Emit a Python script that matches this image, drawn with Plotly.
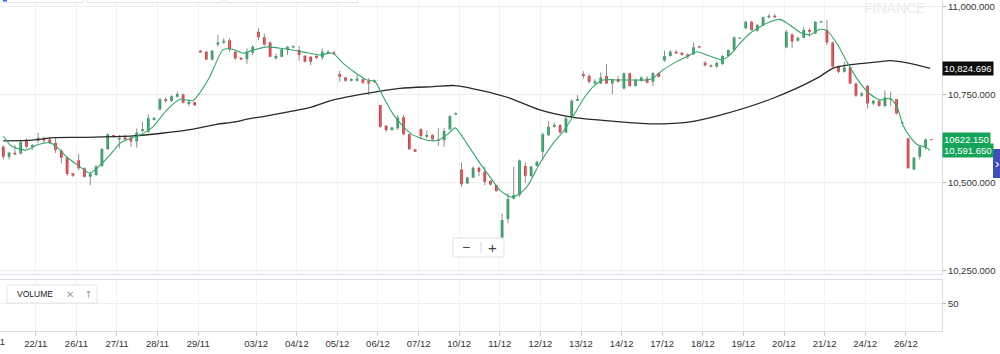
import plotly.graph_objects as go

# ---------------- data ----------------
day_labels = ["21/11", "22/11", "26/11", "27/11", "28/11", "29/11", "03/12", "04/12",
              "05/12", "06/12", "07/12", "10/12", "11/12", "12/12", "13/12", "14/12",
              "17/12", "18/12", "19/12", "20/12", "21/12", "24/12", "26/12"]
day_first_candle = [-1, 6, 13, 20, 27, 34, 44, 51, 58, 65, 72, 79, 86, 93, 100, 107,
                    114, 121, 128, 135, 142, 149, 156]

open_ = [10602, 10574, 10585, 10583, 10621, 10602, 10619, 10626, 10623, 10614,
         10591, 10571, 10527, 10564, 10541, 10517, 10522, 10548, 10596, 10636,
         10623, 10629, 10628, 10617, 10647, 10645, 10678, 10708, 10737, 10732,
         10744, 10751, 10724, 10729, 10875, 10872, 10849, 10893, 10898, 10905,
         10872, 10855, 10851, 10869, 10929, 10913, 10898, 10853, 10858, 10877,
         10884, 10877, 10861, 10858, 10860, 10856, 10867, 10870, 10809, 10799,
         10790, 10790, 10794, 10788, 10787, 10721, 10662, 10650, 10655, 10686,
         10638, 10595, 10652, 10631, 10636, 10623, 10621, 10652, 10694, 10538,
         10498, 10515, 10543, 10531, 10505, 10493, 10342, 10397, 10455, 10465,
         10548, 10519, 10548, 10588, 10635, 10659, 10664, 10643, 10686, 10733,
         10809, 10803, 10782, 10782, 10803, 10782, 10795, 10768, 10811, 10775,
         10790, 10796, 10787, 10811, 10847, 10860, 10872, 10869, 10865, 10865,
         10888, 10841, 10834, 10830, 10837, 10860, 10877, 10909, 10939, 10957,
         10932, 10948, 10970, 10974, 10964, 10884, 10921, 10903, 10912, 10934,
         10924, 10955, 10934, 10898, 10830, 10815, 10827, 10782, 10747, 10775,
         10725, 10733, 10718, 10735, 10738, 10669, 10626, 10538, 10574, 10601,
         10624]
high = [10607, 10588, 10607, 10621, 10626, 10610, 10642, 10631, 10631, 10626,
        10595, 10574, 10528, 10581, 10544, 10531, 10550, 10598, 10640, 10636,
        10636, 10636, 10631, 10654, 10673, 10695, 10686, 10740, 10742, 10749,
        10758, 10754, 10737, 10730, 10877, 10875, 10877, 10920, 10910, 10910,
        10875, 10856, 10882, 10891, 10939, 10924, 10901, 10867, 10882, 10888,
        10891, 10888, 10863, 10860, 10863, 10882, 10877, 10875, 10818, 10801,
        10797, 10806, 10797, 10797, 10793, 10721, 10664, 10659, 10692, 10692,
        10640, 10595, 10656, 10648, 10638, 10655, 10655, 10692, 10700, 10558,
        10517, 10546, 10546, 10546, 10508, 10495, 10413, 10470, 10545, 10566,
        10558, 10548, 10563, 10643, 10675, 10671, 10666, 10688, 10737, 10749,
        10817, 10809, 10794, 10813, 10837, 10795, 10803, 10813, 10813, 10796,
        10803, 10803, 10815, 10813, 10875, 10877, 10877, 10872, 10867, 10898,
        10889, 10846, 10836, 10844, 10863, 10879, 10915, 10913, 10960, 10960,
        10951, 10972, 10979, 10979, 10965, 10934, 10924, 10915, 10943, 10939,
        10959, 10959, 10962, 10901, 10834, 10844, 10830, 10784, 10757, 10778,
        10735, 10737, 10763, 10759, 10738, 10673, 10628, 10574, 10605, 10626,
        10624]
low = [10566, 10566, 10578, 10580, 10597, 10593, 10612, 10612, 10610, 10585,
       10555, 10519, 10517, 10536, 10514, 10493, 10519, 10545, 10593, 10629,
       10598, 10621, 10602, 10600, 10645, 10642, 10677, 10706, 10727, 10730,
       10742, 10725, 10718, 10718, 10869, 10848, 10847, 10886, 10894, 10872,
       10850, 10848, 10837, 10862, 10905, 10889, 10856, 10850, 10856, 10863,
       10882, 10847, 10842, 10834, 10852, 10849, 10866, 10863, 10787, 10787,
       10787, 10788, 10780, 10749, 10784, 10656, 10645, 10648, 10650, 10635,
       10593, 10587, 10623, 10626, 10619, 10604, 10602, 10650, 10692, 10489,
       10496, 10513, 10519, 10493, 10492, 10474, 10342, 10386, 10453, 10460,
       10500, 10517, 10546, 10564, 10633, 10657, 10640, 10640, 10683, 10732,
       10796, 10782, 10780, 10780, 10780, 10752, 10784, 10765, 10773, 10773,
       10787, 10782, 10775, 10799, 10844, 10858, 10866, 10861, 10851, 10863,
       10882, 10830, 10827, 10827, 10834, 10858, 10875, 10908, 10936, 10932,
       10929, 10945, 10967, 10967, 10961, 10882, 10882, 10901, 10910, 10915,
       10922, 10955, 10891, 10827, 10811, 10813, 10780, 10744, 10744, 10711,
       10721, 10716, 10714, 10718, 10694, 10667, 10541, 10536, 10566, 10595,
       10620]
close = [10574, 10585, 10580, 10616, 10602, 10607, 10628, 10619, 10614, 10593,
         10571, 10525, 10520, 10541, 10517, 10525, 10546, 10596, 10638, 10631,
         10628, 10623, 10617, 10643, 10652, 10683, 10685, 10737, 10732, 10746,
         10752, 10727, 10730, 10720, 10870, 10850, 10875, 10898, 10903, 10879,
         10853, 10850, 10872, 10886, 10913, 10893, 10858, 10860, 10879, 10886,
         10888, 10863, 10844, 10844, 10854, 10872, 10872, 10866, 10801, 10790,
         10795, 10796, 10784, 10782, 10791, 10659, 10650, 10657, 10685, 10638,
         10595, 10588, 10633, 10636, 10623, 10619, 10647, 10689, 10698, 10496,
         10515, 10543, 10531, 10503, 10495, 10477, 10394, 10454, 10465, 10563,
         10520, 10546, 10560, 10638, 10659, 10664, 10643, 10683, 10733, 10738,
         10803, 10787, 10788, 10799, 10782, 10795, 10787, 10811, 10775, 10792,
         10799, 10784, 10811, 10801, 10860, 10872, 10867, 10863, 10858, 10885,
         10884, 10834, 10830, 10841, 10860, 10877, 10913, 10912, 10957, 10934,
         10948, 10970, 10974, 10970, 10962, 10929, 10901, 10912, 10934, 10929,
         10957, 10959, 10898, 10830, 10815, 10827, 10782, 10747, 10754, 10725,
         10733, 10718, 10742, 10738, 10697, 10672, 10541, 10571, 10602, 10623,
         10622.15]
candle_idx = list(range(len(open_)))

# moving averages (candle position, value)
fast_ma_x = [0, 1.2, 2.3, 4.0, 5.8, 8.0, 9.2, 10.9, 13.2, 14.9, 16.7, 18.4, 20.1,
             21.8, 23.6, 25.8, 28.2, 30.5, 32.7, 33.9, 35.6, 37.9, 39.6, 41.3,
             43.1, 45.5, 47.7, 49.9, 52.4, 54.6, 56.8, 58.6, 61.0, 62.7, 64.1,
             65.5, 67.2, 68.9, 70.6, 73.1, 74.8, 76.5, 77.9, 79.9, 82.2, 83.9,
             85.6, 87.4, 88.7, 90.3, 92.5, 94.8, 96.5, 98.2, 99.9, 101.7, 103.4,
             105.8, 108.6, 111.0, 112.0, 113.7, 116.1, 118.4, 119.6, 121.3, 123.0,
             123.9, 125.3, 127.0, 128.7, 130.5, 132.2, 133.9, 135.6, 137.4, 139.1,
             140.8, 142.0, 143.7, 145.5, 147.2, 149.4, 151.2, 152.9, 154.1, 155.1,
             156.3, 157.7, 158.9, 159.8]
fast_ma = [10633, 10607, 10598, 10593, 10607, 10614, 10602, 10574, 10546, 10527,
           10550, 10579, 10612, 10626, 10636, 10659, 10707, 10737, 10733, 10756,
           10801, 10878, 10879, 10868, 10877, 10886, 10882, 10877, 10869, 10863,
           10868, 10839, 10809, 10792, 10787, 10744, 10695, 10661, 10636, 10621,
           10620, 10636, 10656, 10612, 10555, 10517, 10479, 10460, 10465, 10489,
           10555, 10612, 10645, 10688, 10735, 10773, 10792, 10792, 10792, 10792,
           10797, 10820, 10844, 10863, 10872, 10863, 10853, 10849, 10863, 10896,
           10924, 10943, 10957, 10964, 10948, 10927, 10920, 10936, 10932, 10896,
           10842, 10795, 10752, 10735, 10740, 10716, 10664, 10631, 10607, 10602,
           10592]
slow_ma_x = [0, 5.1, 8.6, 13.8, 22.4, 27.0, 33.0, 36.8, 39.6, 42.5, 45.5, 52.9,
             56.8, 62.7, 68.4, 74.1, 77.9, 82.7, 87.4, 92.5, 98.2, 102.9, 108.0,
             112.0, 118.4, 123.6, 132.7, 140.3, 143.0, 145.5, 151.2, 152.9, 156.3,
             159.8]
slow_ma = [10619, 10621, 10628, 10629, 10633, 10640, 10653, 10666, 10672, 10682,
           10690, 10714, 10735, 10754, 10768, 10773, 10776, 10761, 10740, 10707,
           10686, 10678, 10671, 10667, 10673, 10692, 10740, 10797, 10825, 10834,
           10844, 10847, 10839, 10825]

last_price = 10622.15
fast_ma_last = 10591.65
slow_ma_last = 10824.696

price_ticks = [10250, 10500, 10750, 11000]
volume_ticks = [50]

# ---------------- styling / layout constants ----------------
W, H = 1000, 354
PLOT_H = 331                 # plot area height (bottom margin 23)
X_END = 0.942                # right edge of the panes
X_RANGE = [-0.569, 161.84]
Y_RANGE = [10241, 11019]
VOL_RANGE = [0, 94]
MAIN_DOM = [(PLOT_H - 274) / PLOT_H, 1]
VOL_DOM = [0, (PLOT_H - 280) / PLOT_H]
UP, DOWN, WICK = "#18a35b", "#f0282d", "#8c8c8c"
FONT = "Liberation Sans, Arial, Helvetica, sans-serif"
TXT = "#333333"


def px(xp):
    return xp / W


def py(yp):
    return (PLOT_H - yp) / PLOT_H


tickvals = [f - 0.4 for f in day_first_candle]

# wick segments
wx, wy = [], []
for i, h, l in zip(candle_idx, high, low):
    wx += [i, i, None]
    wy += [l, h, None]

fig = go.Figure()
fig.add_trace(go.Scatter(x=wx, y=wy, mode="lines", line=dict(color=WICK, width=1),
                         hoverinfo="skip", showlegend=False))
fig.add_trace(go.Candlestick(
    x=candle_idx, open=open_, high=high, low=low, close=close,
    increasing=dict(fillcolor=UP, line=dict(color=UP, width=0)),
    decreasing=dict(fillcolor=DOWN, line=dict(color=DOWN, width=0)),
    whiskerwidth=0, hoverinfo="skip", showlegend=False))
fig.add_trace(go.Scatter(x=slow_ma_x, y=slow_ma, mode="lines",
                         line=dict(color="#2a2a2a", width=1.3, shape="spline", smoothing=0.8),
                         hoverinfo="skip", showlegend=False))
fig.add_trace(go.Scatter(x=fast_ma_x, y=fast_ma, mode="lines",
                         line=dict(color="#37a56b", width=1.1, shape="spline", smoothing=0.6),
                         hoverinfo="skip", showlegend=False))
fig.add_trace(go.Scatter(x=[], y=[], xaxis="x2", yaxis="y2", showlegend=False))

axis_font = dict(family=FONT, size=9.5, color=TXT)

fig.update_layout(
    width=W, height=H, margin=dict(l=0, r=0, t=0, b=H - PLOT_H),
    paper_bgcolor="white", plot_bgcolor="white", showlegend=False,
    boxgap=0.32,
    xaxis=dict(domain=[0, X_END], range=X_RANGE, anchor="y", tickvals=tickvals,
               showticklabels=False, showgrid=True, gridcolor="#f1f2f4", zeroline=False,
               showline=True, linecolor="#dde1e7", linewidth=1,
               rangeslider=dict(visible=False), fixedrange=True),
    yaxis=dict(domain=MAIN_DOM, range=Y_RANGE, anchor="x", side="right",
               tickvals=price_ticks, tickformat=",.3f", tickfont=axis_font,
               showgrid=True, gridcolor="#eeeeee", zeroline=False,
               ticks="outside", ticklen=3, tickcolor="#b5b5b5",
               showline=True, linecolor="#d6dae0", linewidth=1),
    xaxis2=dict(domain=[0, X_END], range=X_RANGE, anchor="y2", tickvals=tickvals,
                ticktext=day_labels, tickfont=axis_font, showgrid=True,
                gridcolor="#f1f2f4", zeroline=False, showline=True, mirror=True,
                linecolor="#d9dee7", linewidth=1, ticks="outside", ticklen=4,
                tickcolor="#cccccc"),
    yaxis2=dict(domain=VOL_DOM, range=VOL_RANGE, anchor="x2", side="right",
                tickvals=volume_ticks, tickfont=axis_font, showgrid=True,
                gridcolor="#eeeeee", zeroline=False, ticks="outside", ticklen=3,
                tickcolor="#b5b5b5", showline=True, mirror=True,
                linecolor="#d9dee7", linewidth=1),
)

# partially visible first day label
first_tick_paper = (tickvals[0] - X_RANGE[0]) / (X_RANGE[1] - X_RANGE[0]) * X_END


def note(xp, yp, text, size, color="#444", family=FONT, xanchor="center"):
    return dict(x=px(xp), xref="paper", y=py(yp), yref="paper", text=text,
                showarrow=False, xanchor=xanchor, yanchor="middle",
                font=dict(family=family, size=size, color=color))


def tag(value, text, bg):
    return dict(x=X_END, xref="paper", xanchor="left", y=value, yref="y",
                yanchor="middle", text=text, showarrow=False, bgcolor=bg,
                borderpad=1, font=dict(family=FONT, size=9.5, color="white"))


annotations = [
    dict(x=first_tick_paper - 0.0015, xref="paper", y=py(341.5), yref="paper",
         text=day_labels[0], showarrow=False, font=axis_font, xanchor="center",
         yanchor="middle"),
    tag(slow_ma_last, f"{slow_ma_last:,.3f}", "#0d0d0d"),
    tag(last_price, f"{last_price:.3f}", "#16a35a"),
    tag(fast_ma_last, f"{fast_ma_last:,.3f}", "#16a35a"),
    note(894, 8, "FINANCE", 14, "#ececec"),
    note(466, 247, "\u2212", 14, "#444"),
    note(492.5, 247, "+", 15, "#444"),
    note(15, 294, "VOLUME", 8.5, "#222", xanchor="left"),
    note(70, 294, "\u2715", 10, "#a0a0a0", family="DejaVu Sans"),
    note(87.5, 294, "\u2191", 10, "#a0a0a0", family="DejaVu Sans"),
    note(997, 163.5, "\u203a", 13, "white"),
]

shapes = []
# cut-off toolbar boxes at the top
for x0, x1 in [(2, 83), (87, 223), (225, 358)]:
    shapes.append(dict(type="rect", xref="paper", yref="paper", x0=px(x0), x1=px(x1),
                       y0=py(2.5), y1=py(-12), line=dict(color="#e4e4e4", width=1),
                       fillcolor="white", layer="above"))
shapes.append(dict(type="rect", xref="paper", yref="paper", x0=px(3), x1=px(7),
                   y0=py(1.5), y1=py(-3), line=dict(width=0), fillcolor="#1a73e8",
                   layer="above"))
# zoom button box
shapes.append(dict(type="rect", xref="paper", yref="paper", x0=px(453), x1=px(504),
                   y0=py(257), y1=py(238), line=dict(color="#e3e3e3", width=1),
                   fillcolor="white", layer="above"))
shapes.append(dict(type="line", xref="paper", yref="paper", x0=px(481), x1=px(481),
                   y0=py(253), y1=py(242), line=dict(color="#d5d5d5", width=1),
                   layer="above"))
# volume legend box
shapes.append(dict(type="rect", xref="paper", yref="paper", x0=px(7), x1=px(97),
                   y0=py(303), y1=py(285), line=dict(color="#e6e6e6", width=1),
                   fillcolor="white", layer="above"))
# right side tab
shapes.append(dict(type="rect", xref="paper", yref="paper", x0=px(993), x1=px(1004),
                   y0=py(178), y1=py(149), line=dict(width=0), fillcolor="#3f4fb8",
                   layer="above"))

fig.update_layout(annotations=annotations, shapes=shapes)

fig.write_html("out.html")
